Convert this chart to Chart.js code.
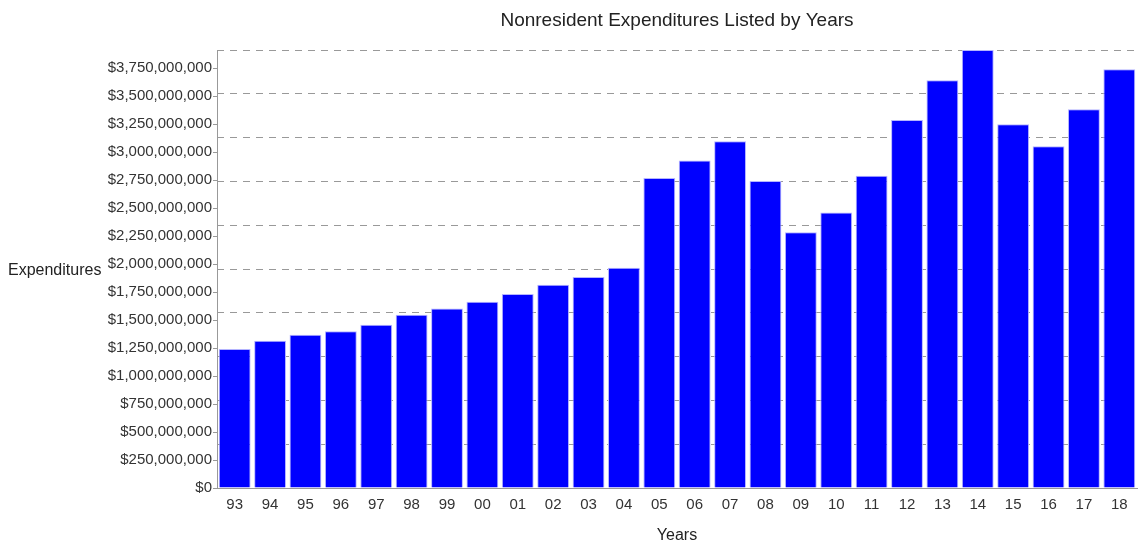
<!DOCTYPE html>
<html lang="en">
<head>
  <meta charset="UTF-8" />
  <title>Nonresident Expenditures Listed by Years</title>
  <script src="https://cdn.jsdelivr.net/npm/chart.js"></script>
  <style>
    html, body { margin: 0; padding: 0; background: #fff; }
    .chart-box { width: 1139px; height: 542px; position: relative; }
  </style>
</head>
<body>
  <div class="chart-box">
    <canvas id="grafico"></canvas>
  </div>

  <script>
    // data
    const years = ['93', '94', '95', '96', '97', '98', '99', '00', '01', '02', '03', '04', '05',
                   '06', '07', '08', '09', '10', '11', '12', '13', '14', '15', '16', '17', '18'];
    const expenditures = [
      1241000000, 1315000000, 1369000000, 1399000000, 1458000000, 1548000000, 1604000000,
      1664000000, 1732000000, 1815000000, 1884000000, 1967000000, 2768000000, 2926000000,
      3098000000, 2742000000, 2284000000, 2460000000, 2788000000, 3286000000, 3641000000,
      3912000000, 3248000000, 3052000000, 3382000000, 3739000000
    ];
    const yTickValues = [0, 250000000, 500000000, 750000000, 1000000000, 1250000000, 1500000000,
                         1750000000, 2000000000, 2250000000, 2500000000, 2750000000, 3000000000,
                         3250000000, 3500000000, 3750000000];
    const gridDivisions = 10;

    const chartTitle = 'Nonresident Expenditures Listed by Years';
    const yTitle = 'Expenditures';
    const xTitle = 'Years';

    const yMax = Math.max(...expenditures);
    const fontFamily = '"Liberation Sans", Arial, Helvetica, sans-serif';

    // titulo centrado na area do grafico + rotulo horizontal do eixo y
    const extraText = {
      id: 'extraText',
      afterDraw(chart) {
        const { ctx, chartArea } = chart;
        ctx.save();
        ctx.fillStyle = '#222';
        ctx.font = '19px ' + fontFamily;
        ctx.textAlign = 'center';
        ctx.textBaseline = 'middle';
        ctx.fillText(chartTitle, (chartArea.left + chartArea.right) / 2, 21);
        ctx.font = '16px ' + fontFamily;
        ctx.textAlign = 'left';
        ctx.fillText(yTitle, 8, (chartArea.top + chartArea.bottom) / 2 + 2);
        ctx.restore();
      }
    };

    const ctx = document.getElementById('grafico').getContext('2d');
    const myChart = new Chart(ctx, {
      type: 'bar',
      data: {
        labels: years,
        datasets: [{
          label: 'Expenditures',
          data: expenditures,
          backgroundColor: '#0000ff',
          borderColor: '#b4b4ff',
          borderWidth: 1,
          barPercentage: 0.9,
          categoryPercentage: 1.0
        }]
      },
      options: {
        responsive: true,
        maintainAspectRatio: false,
        animation: false,
        layout: { padding: { top: 50, right: 2, left: 0, bottom: 0 } },
        plugins: {
          legend: { display: false },
          title: { display: false },
          tooltip: { enabled: false }
        },
        scales: {
          x: {
            grid: { display: false },
            border: { display: true, color: '#999', width: 1 },
            ticks: { color: '#333', font: { family: fontFamily, size: 15 }, padding: 0, maxRotation: 0 },
            title: {
              display: true,
              text: xTitle,
              color: '#222',
              font: { family: fontFamily, size: 16, lineHeight: 0.75 },
              padding: { top: 10, bottom: 0 }
            },
            afterFit: (scale) => { scale.height = 54; }
          },
          y: {
            min: 0,
            max: yMax,
            grid: { drawOnChartArea: false, tickColor: '#999', tickLength: 4 },
            border: { display: true, color: '#999', width: 1 },
            ticks: {
              color: '#333',
              font: { family: fontFamily, size: 15 },
              padding: 1,
              callback: (v) => '$' + Number(v).toLocaleString('en-US')
            },
            afterBuildTicks: (scale) => {
              scale.ticks = yTickValues.map(v => ({ value: v }));
            },
            afterFit: (scale) => { scale.width = 217; }
          },
          yGrid: {
            position: 'left',
            min: 0,
            max: yMax,
            ticks: { display: false },
            grid: { color: '#999', lineWidth: 1, drawTicks: false },
            border: { display: false, dash: [7, 6] },
            afterBuildTicks: (scale) => {
              const t = [];
              for (let i = 0; i <= gridDivisions; i++) t.push({ value: yMax * i / gridDivisions });
              scale.ticks = t;
            },
            afterFit: (scale) => { scale.width = 0; }
          }
        }
      },
      plugins: [extraText]
    });
  </script>
</body>
</html>
